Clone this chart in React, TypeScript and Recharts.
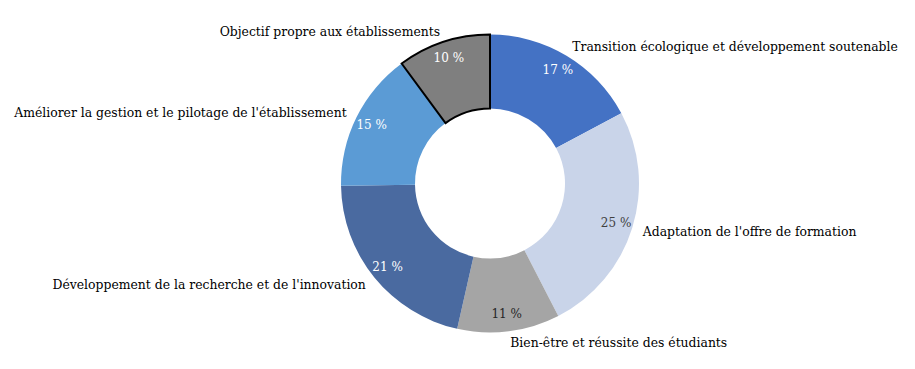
import { PieChart, Pie, Cell } from "recharts";

const CATEGORIES = [
  "Transition écologique et développement soutenable",
  "Adaptation de l'offre de formation",
  "Bien-être et réussite des étudiants",
  "Développement de la recherche et de l'innovation",
  "Améliorer la gestion et le pilotage de l'établissement",
  "Objectif  propre aux établissements",
];
const SHARES = [17, 25, 11, 21, 15, 10];
const COLORS = ["#4472C4", "#C9D4E9", "#A5A5A5", "#4A6AA0", "#5B9BD5", "#7F7F7F"];
const PCT_COLORS = ["#FFFFFF", "#404040", "#262626", "#FFFFFF", "#FFFFFF", "#FFFFFF"];

const data = CATEGORIES.map((name, i) => ({ name, value: SHARES[i] }));

const FONT = "'DejaVu Serif', serif";
const RAD = Math.PI / 180;

function renderLabel(props: any) {
  const { cx, cy, midAngle, index, value } = props;
  const sin = Math.sin(-midAngle * RAD);
  const cos = Math.cos(-midAngle * RAD);
  // pourcentage dans l'anneau
  const pr = 132;
  const px = cx + pr * cos;
  const py = cy + pr * sin;
  // libellé à l'extérieur
  const lr = 160;
  const lx = cx + lr * cos;
  const ly = cy + lr * sin;
  return (
    <g>
      <text
        x={px}
        y={py}
        fill={PCT_COLORS[index]}
        textAnchor="middle"
        dominantBaseline="central"
        fontSize={12}
        fontFamily={FONT}
      >
        {`${value} %`}
      </text>
      <text
        x={lx}
        y={ly}
        fill="#000"
        textAnchor={lx > cx + 15 ? "start" : lx < cx - 15 ? "end" : "start"}
        dominantBaseline="central"
        fontSize={12.4}
        fontFamily={FONT}
      >
        {CATEGORIES[index]}
      </text>
    </g>
  );
}

export default function App() {
  return (
    <PieChart width={907} height={361}>
      <Pie
        data={data}
        dataKey="value"
        cx={477}
        cy={170.5}
        innerRadius={75}
        outerRadius={149}
        startAngle={90}
        endAngle={-270}
        label={renderLabel}
        labelLine={false}
        isAnimationActive={false}
      >
        {data.map((d, i) => (
          <Cell
            key={d.name}
            fill={COLORS[i]}
            stroke={i === data.length - 1 ? "#000" : "none"}
            strokeWidth={i === data.length - 1 ? 2 : 0}
          />
        ))}
      </Pie>
    </PieChart>
  );
}
